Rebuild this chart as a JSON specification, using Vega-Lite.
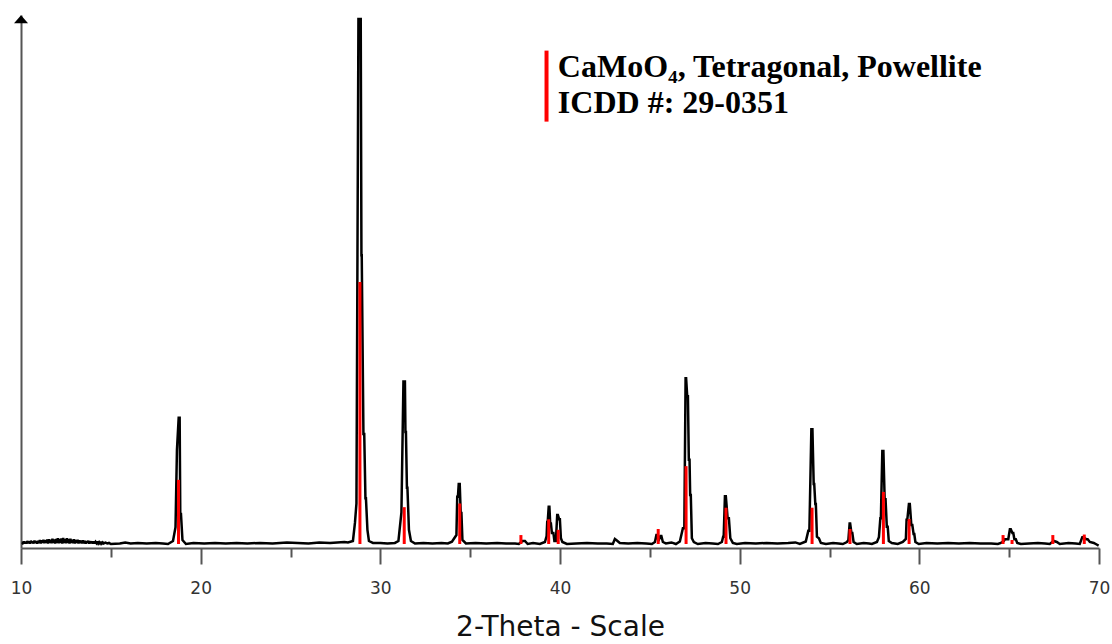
{
  "$schema": "https://vega.github.io/schema/vega-lite/v6.json",
  "width": 1078,
  "height": 533,
  "autosize": {"type": "none"},
  "padding": {"left": 21, "top": 15, "right": 13, "bottom": 96},
  "background": "white",
  "config": {"view": {"stroke": null}},
  "datasets": {
    "profile": [
      {"t": 10.05, "I": 0.0},
      {"t": 10.10, "I": 0.1}, {"t": 10.15, "I": 0.5}, {"t": 10.20, "I": 0.1}, {"t": 10.25, "I": 0.4}, {"t": 10.30, "I": 0.1},
      {"t": 10.35, "I": 0.55}, {"t": 10.40, "I": 0.15}, {"t": 10.45, "I": 0.45}, {"t": 10.50, "I": 0.1}, {"t": 10.55, "I": 0.6},
      {"t": 10.60, "I": 0.2}, {"t": 10.65, "I": 0.5}, {"t": 10.70, "I": 0.1}, {"t": 10.75, "I": 0.65}, {"t": 10.80, "I": 0.2},
      {"t": 10.85, "I": 0.55}, {"t": 10.90, "I": 0.1}, {"t": 10.95, "I": 0.6}, {"t": 11.00, "I": 0.2}, {"t": 11.05, "I": 0.75},
      {"t": 11.10, "I": 0.1}, {"t": 11.15, "I": 0.7}, {"t": 11.20, "I": 0.2}, {"t": 11.25, "I": 0.8}, {"t": 11.30, "I": 0.15},
      {"t": 11.35, "I": 0.7}, {"t": 11.40, "I": 0.2}, {"t": 11.45, "I": 0.85}, {"t": 11.50, "I": 0.1}, {"t": 11.55, "I": 0.9},
      {"t": 11.60, "I": 0.2}, {"t": 11.65, "I": 0.8}, {"t": 11.70, "I": 0.15}, {"t": 11.75, "I": 1.0}, {"t": 11.80, "I": 0.2},
      {"t": 11.85, "I": 0.85}, {"t": 11.90, "I": 0.1}, {"t": 11.95, "I": 0.95}, {"t": 12.00, "I": 0.2}, {"t": 12.05, "I": 1.1},
      {"t": 12.10, "I": 0.15}, {"t": 12.15, "I": 0.95}, {"t": 12.20, "I": 0.2}, {"t": 12.25, "I": 1.05}, {"t": 12.30, "I": 0.1},
      {"t": 12.35, "I": 1.15}, {"t": 12.40, "I": 0.2}, {"t": 12.45, "I": 0.9}, {"t": 12.50, "I": 0.15}, {"t": 12.55, "I": 1.1},
      {"t": 12.60, "I": 0.2}, {"t": 12.65, "I": 0.95}, {"t": 12.70, "I": 0.1}, {"t": 12.75, "I": 1.0}, {"t": 12.80, "I": 0.2},
      {"t": 12.85, "I": 0.8}, {"t": 12.90, "I": 0.15}, {"t": 12.95, "I": 0.9}, {"t": 13.00, "I": 0.1}, {"t": 13.05, "I": 0.75},
      {"t": 13.10, "I": 0.2}, {"t": 13.15, "I": 0.8}, {"t": 13.20, "I": 0.1}, {"t": 13.25, "I": 0.7}, {"t": 13.30, "I": 0.2},
      {"t": 13.35, "I": 0.65}, {"t": 13.40, "I": 0.1}, {"t": 13.45, "I": 0.7}, {"t": 13.50, "I": 0.15}, {"t": 13.55, "I": 0.6},
      {"t": 13.60, "I": 0.1}, {"t": 13.65, "I": 0.55}, {"t": 13.70, "I": 0.2}, {"t": 13.75, "I": 0.6}, {"t": 13.80, "I": 0.1},
      {"t": 13.85, "I": 0.5}, {"t": 13.90, "I": 0.15}, {"t": 13.95, "I": 0.45}, {"t": 14.00, "I": 0.1}, {"t": 14.05, "I": 0.5},
      {"t": 14.10, "I": 0.1}, {"t": 14.15, "I": 0.4}, {"t": 14.20, "I": 0.15}, {"t": 14.25, "I": 0.45}, {"t": 14.30, "I": 0.1},
      {"t": 14.35, "I": 0.35}, {"t": 14.40, "I": 0.1}, {"t": 14.45, "I": 0.4}, {"t": 14.50, "I": 0.1}, {"t": 14.55, "I": 0.3},
      {"t": 14.60, "I": 0.1}, {"t": 14.70, "I": 0.25}, {"t": 14.80, "I": 0.1}, {"t": 14.90, "I": 0.2}, {"t": 15.0, "I": 0.0},
      {"t": 15.5, "I": 0.1}, {"t": 15.8, "I": 0.3}, {"t": 16.1, "I": 0.1}, {"t": 16.5, "I": 0.2}, {"t": 17.0, "I": 0.1},
      {"t": 17.5, "I": 0.2}, {"t": 17.9, "I": 0.1},
      {"t": 18.18, "I": 0.0}, {"t": 18.46, "I": 0.57}, {"t": 18.60, "I": 3.2}, {"t": 18.68, "I": 17.9}, {"t": 18.776, "I": 24.0},
      {"t": 18.831, "I": 24.0}, {"t": 18.865, "I": 5.7}, {"t": 18.904, "I": 5.7}, {"t": 18.987, "I": 0.76}, {"t": 19.18, "I": 0.0},
      {"t": 19.6, "I": 0.2}, {"t": 20.2, "I": 0.1}, {"t": 20.8, "I": 0.2}, {"t": 21.4, "I": 0.1}, {"t": 22.0, "I": 0.2},
      {"t": 22.6, "I": 0.1}, {"t": 23.3, "I": 0.2}, {"t": 24.0, "I": 0.1}, {"t": 24.8, "I": 0.3}, {"t": 25.4, "I": 0.2},
      {"t": 26.0, "I": 0.1}, {"t": 26.6, "I": 0.3}, {"t": 27.2, "I": 0.2}, {"t": 27.6, "I": 0.3}, {"t": 28.0, "I": 0.4},
      {"t": 28.20, "I": 0.3}, {"t": 28.475, "I": 0.57}, {"t": 28.587, "I": 4.0}, {"t": 28.670, "I": 7.7}, {"t": 28.781, "I": 99.8},
      {"t": 28.909, "I": 99.8}, {"t": 28.948, "I": 54.9}, {"t": 28.965, "I": 54.9}, {"t": 29.059, "I": 20.9}, {"t": 29.104, "I": 20.9},
      {"t": 29.171, "I": 8.7}, {"t": 29.199, "I": 8.7}, {"t": 29.282, "I": 2.7}, {"t": 29.366, "I": 0.57}, {"t": 29.59, "I": 0.2},
      {"t": 30.0, "I": 0.2}, {"t": 30.4, "I": 0.1},
      {"t": 30.81, "I": 0.2}, {"t": 31.007, "I": 0.57}, {"t": 31.174, "I": 6.0}, {"t": 31.286, "I": 30.9}, {"t": 31.369, "I": 30.9},
      {"t": 31.397, "I": 21.3}, {"t": 31.425, "I": 21.3}, {"t": 31.480, "I": 10.7}, {"t": 31.508, "I": 10.7}, {"t": 31.592, "I": 2.7},
      {"t": 31.703, "I": 0.57}, {"t": 31.93, "I": 0.1}, {"t": 32.4, "I": 0.2}, {"t": 32.9, "I": 0.1}, {"t": 33.4, "I": 0.2},
      {"t": 33.76, "I": 0.1}, {"t": 33.985, "I": 0.44}, {"t": 34.235, "I": 1.7}, {"t": 34.280, "I": 9.0}, {"t": 34.319, "I": 9.0},
      {"t": 34.363, "I": 11.4}, {"t": 34.419, "I": 11.4}, {"t": 34.474, "I": 5.9}, {"t": 34.513, "I": 5.9}, {"t": 34.569, "I": 0.76},
      {"t": 34.763, "I": 0.1}, {"t": 35.3, "I": 0.2}, {"t": 35.9, "I": 0.1}, {"t": 36.5, "I": 0.2}, {"t": 37.0, "I": 0.1},
      {"t": 37.5, "I": 0.1}, {"t": 37.71, "I": 0.0}, {"t": 37.91, "I": 0.57}, {"t": 38.05, "I": 0.57}, {"t": 38.2, "I": 0.0},
      {"t": 38.5, "I": 0.2}, {"t": 38.88, "I": 0.0}, {"t": 39.16, "I": 0.38}, {"t": 39.255, "I": 1.5}, {"t": 39.288, "I": 4.2},
      {"t": 39.316, "I": 4.2}, {"t": 39.371, "I": 7.1}, {"t": 39.410, "I": 7.1}, {"t": 39.455, "I": 3.9}, {"t": 39.494, "I": 3.9},
      {"t": 39.549, "I": 2.1}, {"t": 39.633, "I": 2.1}, {"t": 39.688, "I": 0.57}, {"t": 39.772, "I": 0.57}, {"t": 39.844, "I": 5.5},
      {"t": 39.883, "I": 5.5}, {"t": 39.955, "I": 4.7}, {"t": 39.994, "I": 4.7}, {"t": 40.050, "I": 1.1}, {"t": 40.133, "I": 0.38},
      {"t": 40.384, "I": 0.0}, {"t": 40.9, "I": 0.1}, {"t": 41.5, "I": 0.2}, {"t": 42.1, "I": 0.1}, {"t": 42.6, "I": 0.1},
      {"t": 42.94, "I": 0.0}, {"t": 43.055, "I": 0.95}, {"t": 43.166, "I": 0.67}, {"t": 43.33, "I": 0.2}, {"t": 43.8, "I": 0.1},
      {"t": 44.3, "I": 0.2}, {"t": 44.8, "I": 0.1}, {"t": 45.115, "I": 0.0}, {"t": 45.282, "I": 0.38}, {"t": 45.365, "I": 1.7},
      {"t": 45.421, "I": 1.7}, {"t": 45.476, "I": 0.57}, {"t": 45.587, "I": 1.5}, {"t": 45.643, "I": 1.5}, {"t": 45.726, "I": 0.38},
      {"t": 45.893, "I": 0.1}, {"t": 46.2, "I": 0.3}, {"t": 46.45, "I": 0.0}, {"t": 46.67, "I": 0.48}, {"t": 46.84, "I": 3.0},
      {"t": 46.92, "I": 3.0}, {"t": 46.99, "I": 31.5}, {"t": 47.02, "I": 31.5}, {"t": 47.08, "I": 28.1}, {"t": 47.12, "I": 28.1},
      {"t": 47.17, "I": 16.0}, {"t": 47.21, "I": 16.0}, {"t": 47.245, "I": 9.3}, {"t": 47.28, "I": 9.3}, {"t": 47.34, "I": 1.1},
      {"t": 47.45, "I": 0.38}, {"t": 47.67, "I": 0.0}, {"t": 48.1, "I": 0.2}, {"t": 48.5, "I": 0.1}, {"t": 48.79, "I": 0.0},
      {"t": 49.01, "I": 0.38}, {"t": 49.08, "I": 1.4}, {"t": 49.11, "I": 1.4}, {"t": 49.18, "I": 9.1}, {"t": 49.23, "I": 9.1},
      {"t": 49.33, "I": 4.9}, {"t": 49.40, "I": 4.9}, {"t": 49.48, "I": 1.1}, {"t": 49.62, "I": 0.2}, {"t": 49.84, "I": 0.0},
      {"t": 50.3, "I": 0.2}, {"t": 50.9, "I": 0.1}, {"t": 51.5, "I": 0.2}, {"t": 52.1, "I": 0.1}, {"t": 52.7, "I": 0.2},
      {"t": 53.1, "I": 0.3}, {"t": 53.35, "I": 0.0}, {"t": 53.68, "I": 0.48}, {"t": 53.82, "I": 2.5}, {"t": 53.88, "I": 2.5},
      {"t": 53.99, "I": 21.8}, {"t": 54.05, "I": 21.8}, {"t": 54.12, "I": 11.4}, {"t": 54.15, "I": 11.4}, {"t": 54.21, "I": 7.6},
      {"t": 54.24, "I": 7.6}, {"t": 54.30, "I": 1.4}, {"t": 54.41, "I": 1.1}, {"t": 54.52, "I": 0.2}, {"t": 54.80, "I": 0.0},
      {"t": 55.2, "I": 0.2}, {"t": 55.5, "I": 0.1}, {"t": 55.74, "I": 0.0}, {"t": 55.97, "I": 0.38}, {"t": 56.05, "I": 0.76},
      {"t": 56.12, "I": 3.9}, {"t": 56.15, "I": 3.9}, {"t": 56.22, "I": 2.1}, {"t": 56.27, "I": 2.1}, {"t": 56.34, "I": 0.38},
      {"t": 56.52, "I": 0.0}, {"t": 56.9, "I": 0.2}, {"t": 57.2, "I": 0.1}, {"t": 57.36, "I": 0.0}, {"t": 57.64, "I": 0.38},
      {"t": 57.75, "I": 1.3}, {"t": 57.83, "I": 4.9}, {"t": 57.86, "I": 4.9}, {"t": 57.94, "I": 17.7}, {"t": 58.00, "I": 17.7},
      {"t": 58.07, "I": 8.5}, {"t": 58.12, "I": 8.5}, {"t": 58.19, "I": 3.3}, {"t": 58.24, "I": 3.3}, {"t": 58.30, "I": 0.57},
      {"t": 58.47, "I": 0.2}, {"t": 58.80, "I": 0.0}, {"t": 59.08, "I": 0.38}, {"t": 59.25, "I": 0.95}, {"t": 59.29, "I": 4.6},
      {"t": 59.33, "I": 4.6}, {"t": 59.42, "I": 7.6}, {"t": 59.47, "I": 7.6}, {"t": 59.555, "I": 3.6}, {"t": 59.61, "I": 3.6},
      {"t": 59.68, "I": 1.9}, {"t": 59.72, "I": 1.9}, {"t": 59.78, "I": 0.38}, {"t": 59.97, "I": 0.0}, {"t": 60.4, "I": 0.2},
      {"t": 61.0, "I": 0.1}, {"t": 61.6, "I": 0.2}, {"t": 62.2, "I": 0.1}, {"t": 62.8, "I": 0.2}, {"t": 63.4, "I": 0.1},
      {"t": 64.0, "I": 0.1}, {"t": 64.37, "I": 0.0}, {"t": 64.54, "I": 0.2}, {"t": 64.70, "I": 0.57}, {"t": 64.76, "I": 0.9},
      {"t": 64.95, "I": 0.9}, {"t": 65.04, "I": 2.8}, {"t": 65.09, "I": 2.8}, {"t": 65.18, "I": 2.1}, {"t": 65.23, "I": 2.1},
      {"t": 65.29, "I": 0.9}, {"t": 65.37, "I": 0.9}, {"t": 65.45, "I": 0.2}, {"t": 65.65, "I": 0.0}, {"t": 66.1, "I": 0.1},
      {"t": 66.6, "I": 0.2}, {"t": 67.0, "I": 0.1}, {"t": 67.26, "I": 0.0}, {"t": 67.48, "I": 0.57}, {"t": 67.65, "I": 0.38},
      {"t": 67.82, "I": 0.0}, {"t": 68.3, "I": 0.2}, {"t": 68.7, "I": 0.1}, {"t": 68.93, "I": 0.0}, {"t": 69.07, "I": 1.3},
      {"t": 69.15, "I": 1.3}, {"t": 69.29, "I": 0.9}, {"t": 69.37, "I": 0.9}, {"t": 69.49, "I": 0.38}, {"t": 69.71, "I": 0.2},
      {"t": 69.87, "I": -0.1}, {"t": 69.98, "I": -0.3}
    ],
    "sticks": [
      {"t": 18.765, "h": 12.2}, {"t": 28.865, "h": 49.8}, {"t": 31.33, "h": 7.0}, {"t": 34.419, "h": 7.7},
      {"t": 37.825, "h": 1.7}, {"t": 39.37, "h": 4.7}, {"t": 39.90, "h": 2.7}, {"t": 45.466, "h": 2.85},
      {"t": 47.017, "h": 14.8}, {"t": 49.24, "h": 6.9}, {"t": 54.03, "h": 6.9}, {"t": 56.14, "h": 2.85},
      {"t": 58.00, "h": 9.9}, {"t": 59.43, "h": 4.75}, {"t": 64.66, "h": 1.7}, {"t": 65.16, "h": 0.76},
      {"t": 67.43, "h": 1.7}, {"t": 69.18, "h": 1.8}
    ]
  },
  "layer": [
    {
      "data": {"name": "profile"},
      "mark": {"type": "line", "color": "black", "strokeWidth": 2.5, "strokeJoin": "miter", "strokeMiterLimit": 2},
      "encoding": {
        "x": {
          "field": "t", "type": "quantitative",
          "scale": {"domain": [10, 70], "nice": false, "zero": false},
          "axis": {
            "values": [10, 15, 20, 25, 30, 35, 40, 45, 50, 55, 60, 65, 70],
            "labelExpr": "datum.value % 10 === 0 ? datum.label : ''",
            "tickSize": {"condition": {"test": "datum.value % 10 === 0", "value": 16}, "value": 9},
            "tickWidth": 2, "tickColor": "#555555",
            "domainColor": "#555555", "domainWidth": 2,
            "labelFont": "DejaVu Sans", "labelFontSize": 17, "labelColor": "#333333",
            "labelPadding": 16, "labelFlush": false, "labelOverlap": false,
            "title": "2-Theta - Scale", "titleFont": "DejaVu Sans", "titleFontSize": 28,
            "titleFontWeight": "normal", "titleColor": "#111111", "titlePadding": 17,
            "grid": false
          }
        },
        "y": {
          "field": "I", "type": "quantitative",
          "scale": {"domain": [-0.76, 100.57], "nice": false, "zero": false},
          "axis": {"domain": true, "domainColor": "#555555", "domainWidth": 2, "ticks": false, "labels": false, "title": null, "grid": false}
        }
      }
    },
    {
      "data": {"name": "sticks"},
      "mark": {"type": "rule", "color": "#ff0000", "strokeWidth": 3},
      "encoding": {
        "x": {"field": "t", "type": "quantitative"},
        "y": {"field": "h", "type": "quantitative"},
        "y2": {"datum": 0}
      }
    },
    {
      "data": {"values": [{}]},
      "mark": {"type": "point", "shape": "M-1,0.57L1,0.57L0,-0.57Z", "filled": true, "color": "black", "size": 196, "opacity": 1},
      "encoding": {"x": {"datum": 10}, "y": {"datum": 99.77}}
    },
    {
      "data": {"values": [{}]},
      "mark": {"type": "rule", "color": "#ff0000", "strokeWidth": 4},
      "encoding": {"x": {"datum": 39.25}, "y": {"datum": 93.8}, "y2": {"datum": 80.3}}
    },
    {
      "data": {"values": [{}]},
      "mark": {"type": "text", "text": "CaMoO₄, Tetragonal, Powellite", "font": "Liberation Serif", "fontWeight": "bold", "fontSize": 32, "align": "left", "baseline": "alphabetic", "color": "black"},
      "encoding": {"x": {"datum": 39.88}, "y": {"datum": 88.84}}
    },
    {
      "data": {"values": [{}]},
      "mark": {"type": "text", "text": "ICDD #: 29-0351", "font": "Liberation Serif", "fontWeight": "bold", "fontSize": 32, "align": "left", "baseline": "alphabetic", "color": "black"},
      "encoding": {"x": {"datum": 39.88}, "y": {"datum": 82.0}}
    }
  ]
}
